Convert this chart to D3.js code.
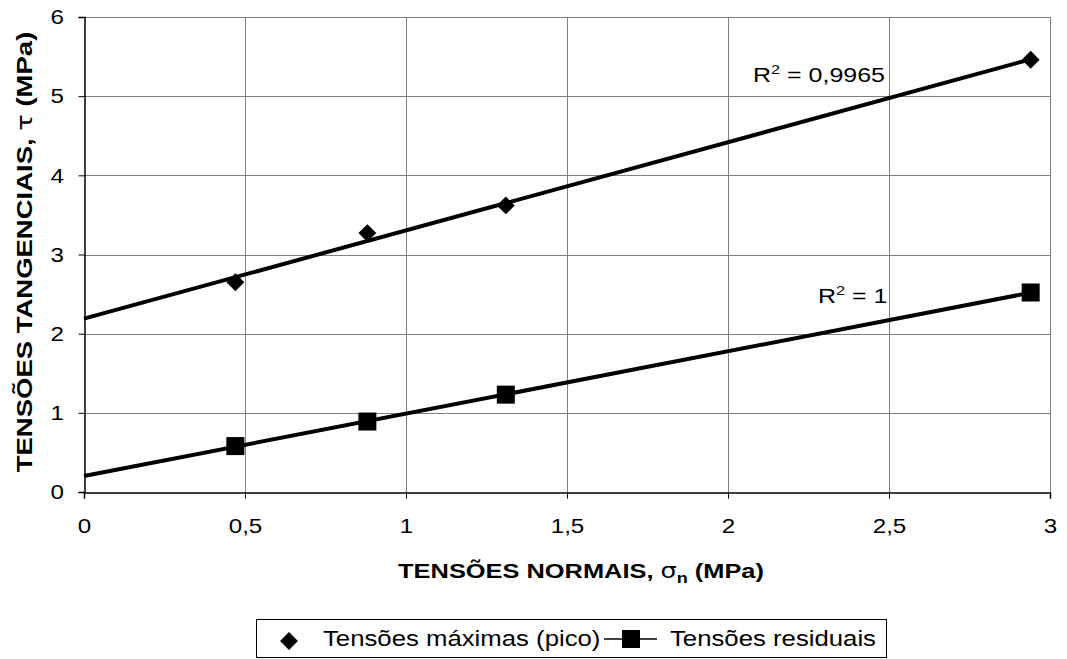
<!DOCTYPE html>
<html>
<head>
<meta charset="utf-8">
<script src="https://cdn.jsdelivr.net/npm/d3@7"></script>
<style>
  body { margin: 0; background: #fff; }
  text { font-family: "Liberation Sans", Arial, sans-serif; fill: #000; }
</style>
</head>
<body>
<div id="chart"></div>
<script>
// data
let sigmaN    = [0.47, 0.88, 1.31, 2.94];
let tauPico   = [2.65, 3.27, 3.62, 5.46];
let tauResid  = [0.58, 0.89, 1.23, 2.52];
let xTicks    = [0, 0.5, 1, 1.5, 2, 2.5, 3];
let yTicks    = [0, 1, 2, 3, 4, 5, 6];
let r2Labels  = ['0,9965', '1'];

let chart_width  = 1067;
let chart_height = 659;
let plot_left = 84, plot_right = 1050, plot_top = 17, plot_bottom = 492;

let svg = d3.select('#chart')
    .append('svg')
    .attr('width', chart_width)
    .attr('height', chart_height);

let xScale = d3.scaleLinear().domain([0, 3]).range([plot_left, plot_right]);
let yScale = d3.scaleLinear().domain([0, 6]).range([plot_bottom, plot_top]);

// text in the picture is a bit wider than Arial, so stretch it
function wideText(parent, x, y, sx, extra) {
    return parent.append('g')
        .attr('transform', 'translate(' + x + ',' + y + ')' + (extra || '') + ' scale(' + sx + ',1)')
        .append('text');
}

// grid
svg.append('g')
    .selectAll('line')
    .data(yTicks.slice(1))
    .enter()
    .append('line')
    .attr('x1', plot_left).attr('x2', plot_right)
    .attr('y1', d => Math.round(yScale(d)) + 0.5)
    .attr('y2', d => Math.round(yScale(d)) + 0.5)
    .attr('stroke', '#808080');

svg.append('g')
    .selectAll('line')
    .data(xTicks.slice(1))
    .enter()
    .append('line')
    .attr('y1', plot_top).attr('y2', plot_bottom)
    .attr('x1', d => Math.round(xScale(d)) + 0.5)
    .attr('x2', d => Math.round(xScale(d)) + 0.5)
    .attr('stroke', '#808080');

// axes
let fmt = d => String(d).replace('.', ',');

let xAxis = d3.axisBottom(xScale)
    .tickValues(xTicks)
    .tickSize(6)
    .tickPadding(20)
    .tickFormat(fmt);

svg.append('g')
    .attr('class', 'x-axis')
    .attr('transform', 'translate(0,' + (plot_bottom + 0.5) + ')')
    .call(xAxis);

let yAxis = d3.axisLeft(yScale)
    .tickValues(yTicks)
    .tickSize(6)
    .tickPadding(12)
    .tickFormat(fmt);

svg.append('g')
    .attr('class', 'y-axis')
    .attr('transform', 'translate(' + (plot_left + 0.5) + ',0)')
    .call(yAxis);

svg.selectAll('.domain').attr('stroke', '#000').attr('stroke-width', 1.5);
svg.selectAll('.tick line').attr('stroke', '#000');
svg.selectAll('.tick text')
    .style('font-family', '"Liberation Sans", Arial, sans-serif')
    .style('font-size', '21px')
    .attr('transform', 'scale(1.15,1)')
    .attr('fill', '#000');

// trend lines (least squares)
function fit(xs, ys) {
    let mx = d3.mean(xs), my = d3.mean(ys);
    let sxy = d3.sum(xs, (x, i) => (x - mx) * (ys[i] - my));
    let sxx = d3.sum(xs, x => (x - mx) * (x - mx));
    let b = sxy / sxx;
    return { b: b, a: my - b * mx };
}

let line = d3.line()
    .x(d => xScale(d[0]))
    .y(d => yScale(d[1]));

[tauPico, tauResid].forEach(function (ys) {
    let f = fit(sigmaN, ys);
    let xmax = d3.max(sigmaN);
    svg.append('path')
        .attr('d', line([[0, f.a], [xmax, f.a + f.b * xmax]]))
        .attr('fill', 'none')
        .attr('stroke', '#000')
        .attr('stroke-width', 4);
});

// markers
let diamond = d3.symbol().type(d3.symbolSquare).size(160);

svg.append('g')
    .selectAll('path')
    .data(sigmaN)
    .enter()
    .append('path')
    .attr('d', diamond)
    .attr('transform', (d, i) => 'translate(' + xScale(d) + ',' + yScale(tauPico[i]) + ') rotate(45)')
    .attr('fill', '#000');

svg.append('g')
    .selectAll('rect')
    .data(sigmaN)
    .enter()
    .append('rect')
    .attr('x', d => xScale(d) - 9)
    .attr('y', (d, i) => yScale(tauResid[i]) - 9)
    .attr('width', 18)
    .attr('height', 18)
    .attr('fill', '#000');

// R² labels
let r2pos = [[753, 82], [818, 303]];
r2Labels.forEach(function (v, i) {
    let t = wideText(svg, r2pos[i][0], r2pos[i][1], 1.25)
        .style('font-size', '20px');
    t.append('tspan').text('R');
    t.append('tspan').text('2').attr('dy', -8).style('font-size', '13px');
    t.append('tspan').text(' = ' + v).attr('dy', 8);
});

// axis titles
let xt = wideText(svg, 581, 578, 1.21)
    .attr('text-anchor', 'middle')
    .style('font-size', '21px')
    .style('font-weight', 'bold');
xt.append('tspan').text('TENSÕES NORMAIS, ');
xt.append('tspan').text('σ').style('font-family', '"DejaVu Sans", sans-serif').style('font-weight', 'normal');
xt.append('tspan').text('n').attr('dy', 5).style('font-size', '15px');
xt.append('tspan').text(' (MPa)').attr('dy', -5);

let yt = wideText(svg, 32, 252, 1.25, ' rotate(-90)')
    .attr('text-anchor', 'middle')
    .style('font-size', '22px')
    .style('font-weight', 'bold');
yt.append('tspan').text('TENSÕES TANGENCIAIS, ');
yt.append('tspan').text('τ').style('font-family', '"DejaVu Sans", sans-serif').style('font-weight', 'normal');
yt.append('tspan').text(' (MPa)');

// legend
let lg = svg.append('g');
lg.append('rect')
    .attr('x', 256.5).attr('y', 619.5)
    .attr('width', 630).attr('height', 38)
    .attr('fill', '#fff')
    .attr('stroke', '#000');

lg.append('path')
    .attr('d', diamond)
    .attr('transform', 'translate(289,641) rotate(45)')
    .attr('fill', '#000');
wideText(lg, 323, 646, 1.17)
    .style('font-size', '22px')
    .text('Tensões máximas (pico)');

lg.append('line')
    .attr('x1', 604).attr('x2', 657)
    .attr('y1', 639).attr('y2', 639)
    .attr('stroke', '#000').attr('stroke-width', 1.5);
lg.append('rect')
    .attr('x', 622).attr('y', 630)
    .attr('width', 18).attr('height', 18)
    .attr('fill', '#000');
wideText(lg, 670, 646, 1.17)
    .style('font-size', '22px')
    .text('Tensões residuais');
</script>
</body>
</html>
